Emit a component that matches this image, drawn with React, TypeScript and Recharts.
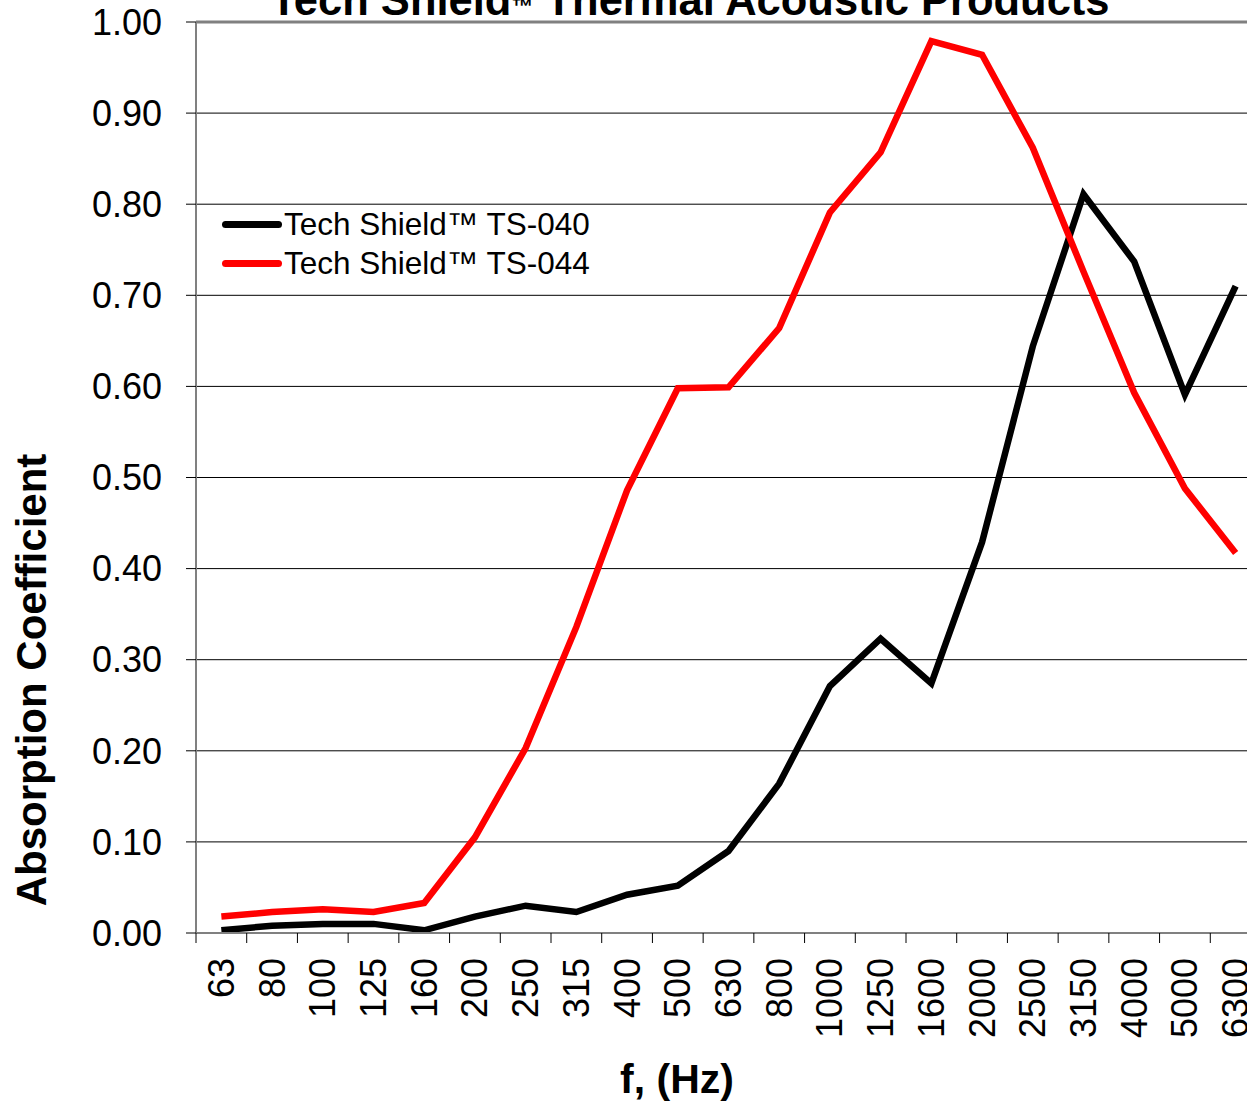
import React from 'react';
import { LineChart, Line, XAxis, YAxis, CartesianGrid, ReferenceLine, Label } from 'recharts';

// frequency bands (Hz)
const freqs = ['63', '80', '100', '125', '160', '200', '250', '315', '400', '500', '630', '800',
  '1000', '1250', '1600', '2000', '2500', '3150', '4000', '5000', '6300'];

// absorption coefficients
const ts040 = [0.003, 0.008, 0.01, 0.01, 0.003, 0.018, 0.03, 0.023, 0.042, 0.052, 0.09, 0.164,
  0.271, 0.323, 0.274, 0.429, 0.644, 0.811, 0.737, 0.591, 0.71];
const ts044 = [0.018, 0.023, 0.026, 0.023, 0.033, 0.105, 0.203, 0.336, 0.486, 0.598, 0.599, 0.664,
  0.791, 0.857, 0.979, 0.964, 0.862, 0.726, 0.593, 0.488, 0.417];

const yTicks = [0, 0.1, 0.2, 0.3, 0.4, 0.5, 0.6, 0.7, 0.8, 0.9, 1.0];

const seriesInfo = [
  { key: 'ts040', name: 'Tech Shield\u2122 TS-040', color: '#000000' },
  { key: 'ts044', name: 'Tech Shield\u2122 TS-044', color: '#ff0000' },
];

const data = freqs.map((f, i) => ({ f, ts040: ts040[i], ts044: ts044[i] }));

const FONT = '"Liberation Sans", Arial, sans-serif';
const W = 1270;
const H = 1105;
const M = { top: 22, right: 9, bottom: 0, left: 0 };
const Y_W = 196;
const PLOT_BOTTOM = 933;
const BW = (W - M.left - M.right - Y_W) / freqs.length;

const XTick = (props: any) => {
  const { x, index, payload } = props;
  const ty = PLOT_BOTTOM + 25;
  return (
    <g>
      <line x1={x - BW / 2} x2={x - BW / 2} y1={PLOT_BOTTOM} y2={PLOT_BOTTOM + 10} stroke="#000" strokeWidth={1} />
      {index === freqs.length - 1 && (
        <line x1={x + BW / 2} x2={x + BW / 2} y1={PLOT_BOTTOM} y2={PLOT_BOTTOM + 10} stroke="#000" strokeWidth={1} />
      )}
      <text
        x={x}
        y={ty}
        transform={`rotate(-90 ${x} ${ty})`}
        textAnchor="end"
        dominantBaseline="central"
        fontSize={36}
        fontFamily={FONT}
        fill="#000"
      >
        {payload.value}
      </text>
    </g>
  );
};

// legend kept outside the chart so it does not eat into the plot area
const ChartLegend = () => (
  <div style={{ position: 'absolute', left: 222, top: 205, fontFamily: FONT, fontSize: 31.5, color: '#000' }}>
    {seriesInfo.map((s) => (
      <div key={s.key} style={{ display: 'flex', alignItems: 'center', height: 39, lineHeight: '39px' }}>
        <span style={{ display: 'inline-block', width: 60, height: 7, borderRadius: 3.5, background: s.color }} />
        <span style={{ marginLeft: 2, whiteSpace: 'nowrap' }}>{s.name}</span>
      </div>
    ))}
  </div>
);

export default function App() {
  return (
    <div style={{ position: 'fixed', left: 0, top: 0, width: 1247, height: 1105, overflow: 'hidden', background: '#fff' }}>
      <LineChart width={W} height={H} data={data} margin={M}>
        <CartesianGrid vertical={false} stroke="#000" strokeWidth={1} />
        <ReferenceLine y={1} stroke="#808080" strokeWidth={3} />
        <XAxis
          dataKey="f"
          scale="band"
          interval={0}
          height={H - PLOT_BOTTOM - M.bottom}
          tick={<XTick />}
          tickLine={false}
          axisLine={{ stroke: '#808080', strokeWidth: 2 }}
        >
          <Label
            content={() => (
              <text x={677} y={1093} textAnchor="middle" fontSize={41} fontWeight="bold" fontFamily={FONT} fill="#000">
                f, (Hz)
              </text>
            )}
          />
          <Label
            content={() => (
              <text x={690} y={15} textAnchor="middle" fontSize={43.5} fontWeight="bold" fontFamily={FONT} fill="#000">
                Tech Shield<tspan fontSize={22} dy={-1}>{'\u2122'}</tspan><tspan dy={1}> Thermal Acoustic Products</tspan>
              </text>
            )}
          />
        </XAxis>
        <YAxis
          width={Y_W}
          domain={[0, 1]}
          ticks={yTicks}
          interval={0}
          tickFormatter={(v: number) => v.toFixed(2)}
          tick={{ fontSize: 36, fill: '#000', fontFamily: FONT }}
          tickSize={10}
          tickMargin={24}
          tickLine={{ stroke: '#000', strokeWidth: 1 }}
          axisLine={{ stroke: '#808080', strokeWidth: 2 }}
        >
          <Label
            content={() => (
              <text
                x={31}
                y={680}
                transform="rotate(-90 31 680)"
                textAnchor="middle"
                dominantBaseline="central"
                fontSize={42}
                fontWeight="bold"
                fontFamily={FONT}
                fill="#000"
              >
                Absorption Coefficient
              </text>
            )}
          />
        </YAxis>
        {seriesInfo.map((s) => (
          <Line
            key={s.key}
            type="linear"
            dataKey={s.key}
            name={s.name}
            stroke={s.color}
            strokeWidth={6.5}
            dot={false}
            isAnimationActive={false}
          />
        ))}
      </LineChart>
      <ChartLegend />
    </div>
  );
}
